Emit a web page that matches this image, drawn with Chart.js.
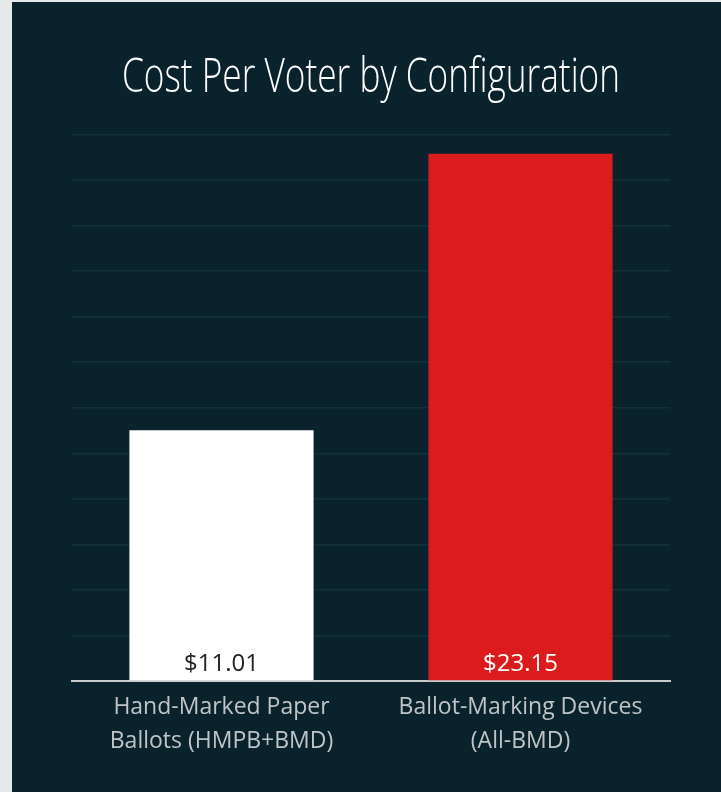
<!DOCTYPE html>
<html>
<head>
<meta charset="utf-8">
<script src="https://cdn.jsdelivr.net/npm/chart.js@4"></script>
<style>
  html, body { margin: 0; padding: 0; background: #e6e9e9; }
  .chart-box {
    position: absolute;
    left: 12px;
    top: 2px;
    width: 709px;
    height: 790px;
    background: #0a222c;
  }
</style>
</head>
<body>
<div class="chart-box"><canvas id="costChart"></canvas></div>
<script>
// Chart data
const chartTitle = "Cost Per Voter by Configuration";
const categories = [
  ["Hand-Marked Paper", "Ballots (HMPB+BMD)"],
  ["Ballot-Marking Devices", "(All-BMD)"],
];
const costPerVoter = [11.01, 23.15];
const barColors = ["#ffffff", "#dc1c1c"];
const valueLabelColors = ["#222222", "#ffffff"];

// Draw "$xx.xx" inside the bottom of each bar
const valueLabels = {
  id: "valueLabels",
  afterDatasetsDraw(chart) {
    const ctx = chart.ctx;
    const meta = chart.getDatasetMeta(0);
    ctx.save();
    ctx.font = "24px 'Open Sans'";
    ctx.textAlign = "center";
    ctx.textBaseline = "alphabetic";
    meta.data.forEach((bar, i) => {
      ctx.fillStyle = valueLabelColors[i];
      ctx.fillText("$" + costPerVoter[i].toFixed(2), bar.x, bar.base - 9);
    });
    ctx.restore();
  },
};

// The title font is a narrow one, so squeeze Open Sans sideways
// into the box the title plugin reserved
const narrowTitle = {
  id: "narrowTitle",
  afterDraw(chart) {
    const block = chart.titleBlock;
    if (!block) return;
    const ctx = chart.ctx;
    const cx = (chart.chartArea.left + chart.chartArea.right) / 2;
    const cy = (block.top + block.bottom) / 2;
    ctx.save();
    ctx.font = "300 47px 'Open Sans'";
    ctx.textAlign = "center";
    ctx.textBaseline = "middle";
    ctx.fillStyle = "#ffffff";
    const w = ctx.measureText(chartTitle).width;
    const sx = 498 / w;
    ctx.translate(cx, cy);
    ctx.scale(sx, 1);
    ctx.fillText(chartTitle, 0, 0);
    ctx.restore();
  },
};

const ctx = document.getElementById("costChart").getContext("2d");
new Chart(ctx, {
  type: "bar",
  data: {
    labels: categories,
    datasets: [
      {
        data: costPerVoter,
        backgroundColor: barColors,
        borderWidth: 0,
        categoryPercentage: 0.8,
        barPercentage: 0.77,
      },
    ],
  },
  options: {
    responsive: true,
    maintainAspectRatio: false,
    animation: false,
    layout: {
      padding: { left: 60, right: 51, top: 20, bottom: 32 },
    },
    plugins: {
      legend: { display: false },
      tooltip: { enabled: false },
      title: {
        display: true,
        text: chartTitle,
        color: "rgba(0,0,0,0)",
        font: { family: "'Open Sans'", size: 47, weight: 300 },
        padding: { top: 22, bottom: 34 },
      },
    },
    scales: {
      y: {
        min: 0,
        max: 24,
        ticks: { display: false, stepSize: 2 },
        grid: { color: "#15303a", lineWidth: 1.5, drawTicks: false },
        border: { display: false },
      },
      x: {
        grid: { display: false },
        border: { color: "#c8cccc", width: 2 },
        ticks: {
          color: "#bfc5c7",
          font: { family: "'Open Sans'", size: 23, lineHeight: 1.5 },
          padding: 1,
        },
      },
    },
  },
  plugins: [valueLabels, narrowTitle],
});
</script>
</body>
</html>
